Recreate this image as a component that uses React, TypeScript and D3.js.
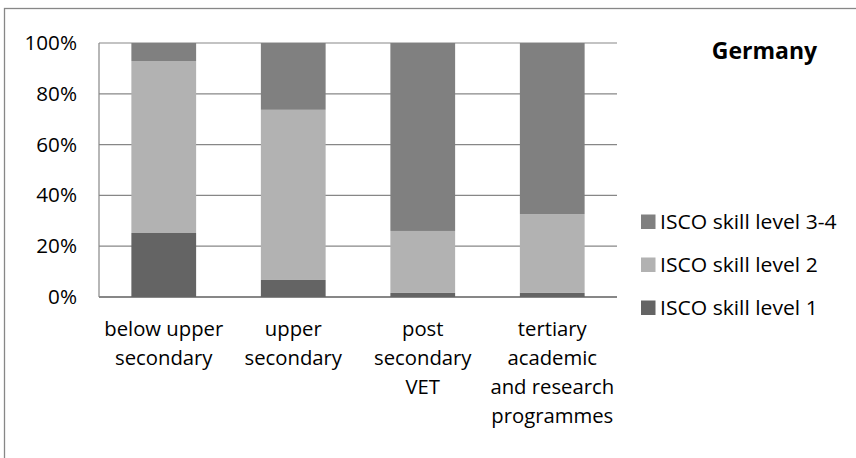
import React from "react";
import * as d3 from "d3";

const categories = [
  ["below upper", "secondary"],
  ["upper", "secondary"],
  ["post", "secondary", "VET"],
  ["tertiary", "academic", "and research", "programmes"],
];
const seriesNames = ["ISCO skill level 1", "ISCO skill level 2", "ISCO skill level 3-4"];
const level1 = [25.2, 6.7, 1.6, 1.6];
const level2 = [67.7, 67.0, 24.4, 31.0];
const level34 = [7.1, 26.3, 74.0, 67.4];
const yTicks = [0, 20, 40, 60, 80, 100];
const colors = ["#646464", "#b2b2b2", "#808080"];

const W = 856;
const H = 458;
const FONT = "'Open Sans', 'Noto Sans', sans-serif";

export default function App() {
  const left = 99, right = 617, top = 43, bottom = 297;
  const x = d3.scaleBand<number>().domain(d3.range(categories.length)).range([left, right]).paddingInner(0.5).paddingOuter(0.25);
  const y = d3.scaleLinear().domain([0, 100]).range([bottom, top]);
  const rows = categories.map((_, i) => ({ i, l1: level1[i], l2: level2[i], l34: level34[i] }));
  const stack = d3.stack<any>().keys(["l1", "l2", "l34"])(rows);

  return (
    <svg width={W} height={H} style={{ position: "absolute", left: 0, top: 0 }} fontFamily={FONT}>
      <rect x={0} y={0} width={W} height={H} fill="#fff" />
      <rect x={4.5} y={8.5} width={W + 20} height={H + 20} fill="none" stroke="#878787" strokeWidth={1.3} />
      {yTicks.map((t) => (
        <g key={t}>
          <line x1={left} x2={right} y1={y(t)} y2={y(t)} stroke="#878787" strokeWidth={t === 0 ? 1.8 : 1.2} />
          <text x={77} y={y(t)} dy="0.36em" textAnchor="end" fontSize={19.5} fill="#000" transform={`translate(77,0) scale(1.06,1) translate(-77,0)`}>
            {t}%
          </text>
        </g>
      ))}
      <line x1={left} x2={left} y1={top} y2={bottom} stroke="#878787" strokeWidth={1.2} />
      {stack.map((s, si) =>
        s.map((d: any, i: number) => (
          <rect key={si + "-" + i} x={x(i)} width={x.bandwidth()} y={y(d[1])} height={y(d[0]) - y(d[1])} fill={colors[si]} />
        ))
      )}
      {categories.map((lines, i) => {
        const cx = (x(i) as number) + x.bandwidth() / 2;
        return (
          <text key={i} textAnchor="middle" fontSize={19.5} fill="#000" transform={`translate(${cx},0) scale(1.04,1)`}>
            {lines.map((l, j) => (
              <tspan key={j} x={0} y={336.5 + j * 28.7}>{l}</tspan>
            ))}
          </text>
        );
      })}
      <text x={764.5} y={58.5} textAnchor="middle" fontSize={23} fontWeight="bold" fill="#000">Germany</text>
      {[2, 1, 0].map((si, k) => {
        const cy = 222 + k * 43;
        return (
          <g key={si}>
            <rect x={641} y={cy - 7.5} width={14.5} height={14.5} fill={colors[si]} />
            <text x={660} y={cy + 7.5} fontSize={20.5} fill="#000" transform={`translate(660,0) scale(1.03,1) translate(-660,0)`}>{seriesNames[si]}</text>
          </g>
        );
      })}
    </svg>
  );
}
